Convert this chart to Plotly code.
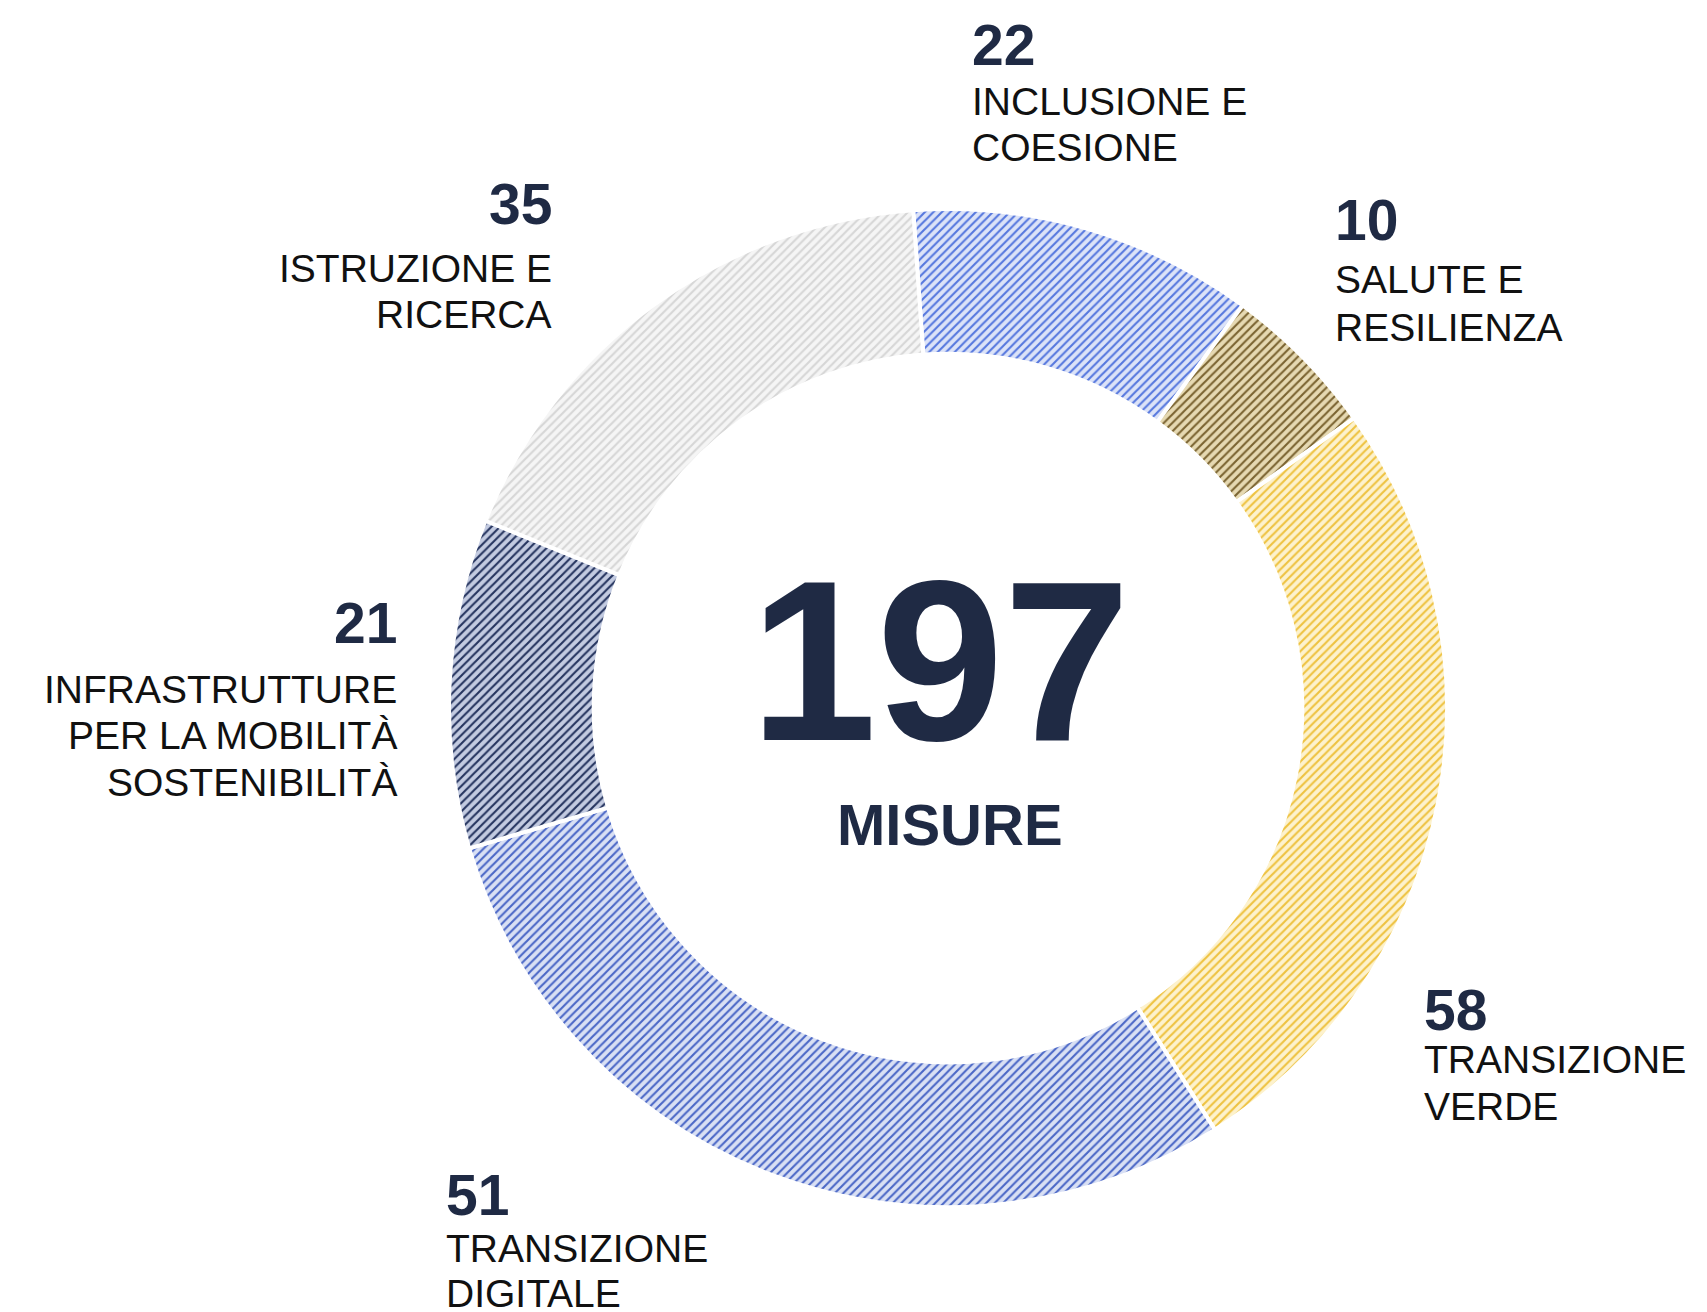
import plotly.graph_objects as go

# Data
categories = ["INCLUSIONE E COESIONE", "SALUTE E RESILIENZA", "TRANSIZIONE VERDE",
              "TRANSIZIONE DIGITALE", "INFRASTRUTTURE PER LA MOBILITÀ SOSTENIBILITÀ",
              "ISTRUZIONE E RICERCA"]
label_lines = [["INCLUSIONE E", "COESIONE"],
               ["SALUTE E", "RESILIENZA"],
               ["TRANSIZIONE", "VERDE"],
               ["TRANSIZIONE", "DIGITALE"],
               ["INFRASTRUTTURE", "PER LA MOBILITÀ", "SOSTENIBILITÀ"],
               ["ISTRUZIONE E", "RICERCA"]]
# numbers printed next to each slice
label_numbers = [22, 10, 58, 51, 21, 35]
# arc sizes as drawn in the picture (the green and digital arcs are drawn swapped)
slice_values = [22, 10, 51, 58, 21, 35]
total_label = "197"
center_caption = "MISURE"

# Styles
bg_colors = ["#DCE3F8", "#E6D9B2", "#FDF2CD", "#D9E0F4", "#C3CBE1", "#F5F5F5"]
fg_colors = ["#5577DE", "#7A6330", "#EEC240", "#4A67C6", "#25345F", "#D6D6D6"]

W, H = 1707, 1312
cx, cy, R = 948, 708, 499

fig = go.Figure(go.Pie(
    values=slice_values,
    labels=categories,
    sort=False,
    direction="clockwise",
    rotation=-4,
    hole=0.71,
    textinfo="none",
    hoverinfo="label",
    showlegend=False,
    marker=dict(
        colors=bg_colors,
        line=dict(color="white", width=4),
        pattern=dict(shape="/", fgcolor=fg_colors, bgcolor=bg_colors,
                     size=6, solidity=0.35, fillmode="replace"),
    ),
    domain=dict(x=[(cx - R) / W, (cx + R) / W], y=[(H - cy - R) / H, (H - cy + R) / H]),
))

FONT = "Liberation Sans, Arial, sans-serif"
NAVY = "#1F2A44"

# label placements: (x anchor px, align, number cap-center y, line cap-center ys)
placements = [
    (970, "left", 44.6, [101.8, 147.5]),
    (1333, "left", 220.4, [279.8, 327.1]),
    (1422, "left", 1009.7, [1059.7, 1106.6]),
    (444, "left", 1194.7, [1248.1, 1293.5]),
    (399, "right", 623.2, [689.6, 735.9, 782.7]),
    (554, "right", 204.1, [268.3, 314.1]),
]

annotations = []
for num, lines, (px, al, ny, lys) in zip(label_numbers, label_lines, placements):
    annotations.append(dict(
        x=px / W, y=1 - ny / H, xref="paper", yref="paper",
        text=f"<b>{num}</b>", showarrow=False, xanchor=al, yanchor="middle",
        font=dict(family=FONT, size=57, color=NAVY)))
    for ln, ly in zip(lines, lys):
        annotations.append(dict(
            x=px / W, y=1 - ly / H, xref="paper", yref="paper",
            text=ln, showarrow=False, xanchor=al, yanchor="middle",
            font=dict(family=FONT, size=39, color="#111111")))

annotations.append(dict(
    x=940 / W, y=1 - 661 / H, xref="paper", yref="paper",
    text=f"<b>{total_label}</b>", showarrow=False, xanchor="center", yanchor="middle",
    font=dict(family=FONT, size=228, color=NAVY)))
annotations.append(dict(
    x=950 / W, y=1 - 824 / H, xref="paper", yref="paper",
    text=f"<b>{center_caption}</b>", showarrow=False, xanchor="center", yanchor="middle",
    font=dict(family=FONT, size=58, color=NAVY)))

fig.update_layout(
    width=W, height=H,
    margin=dict(l=0, r=0, t=0, b=0),
    paper_bgcolor="white", plot_bgcolor="white",
    annotations=annotations,
)

fig.write_html("out.html")
